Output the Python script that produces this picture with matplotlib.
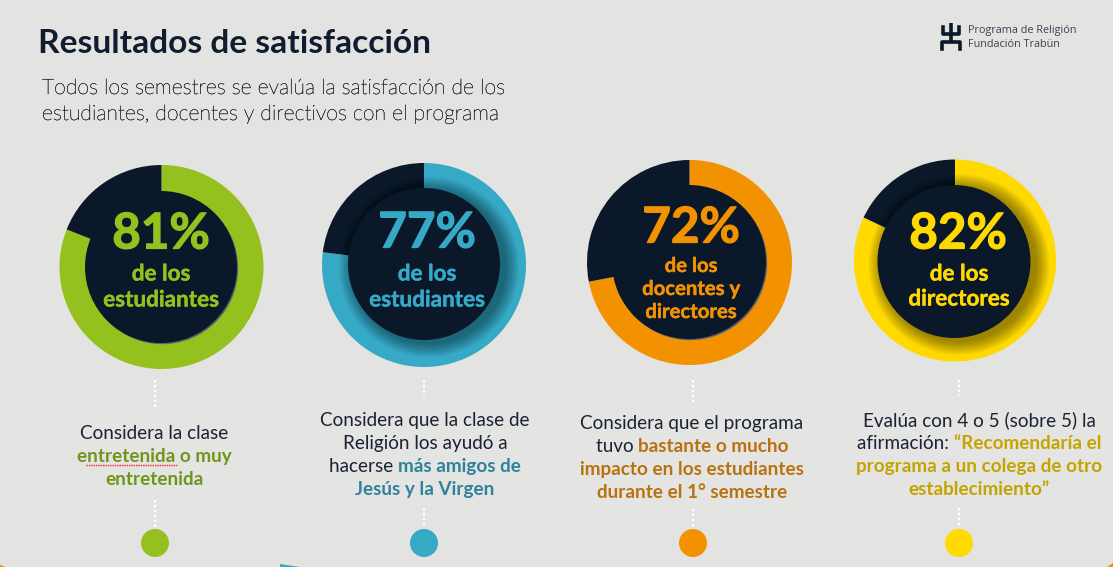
import matplotlib
matplotlib.use("Agg")
import matplotlib.pyplot as plt
import matplotlib.patheffects as pe
from matplotlib.patches import Circle, Rectangle, Polygon

W, H = 1113, 567
BG = "#E3E3E1"
NAVY = "#0B1829"
TXT = "#1A2233"

# ---- data
percent = [81, 77, 72, 82]
big_labels = ["81%", "77%", "72%", "82%"]
sub_labels = [["de los", "estudiantes"], ["de los", "estudiantes"],
              ["de los", "docentes y", "directores"], ["de los", "directores"]]
colors = ["#95C11F", "#36A9C7", "#F39200", "#FFD900"]
text_colors = ["#6F961C", "#2E839C", "#B8720F", "#C4A400"]
descriptions = [
    [[("Considera la clase", 0)], [("entretenida o muy", 1)], [("entretenida", 1)]],
    [[("Considera que la clase de", 0)], [("Religión los ayudó a", 0)],
     [("hacerse ", 0), ("más amigos de", 1)], [("Jesús y la Virgen", 1)]],
    [[("Considera que el programa", 0)], [("tuvo ", 0), ("bastante o mucho", 1)],
     [("impacto en los estudiantes", 1)], [("durante el 1° semestre", 1)]],
    [[("Evalúa con 4 o 5 (sobre 5) la", 0)], [("afirmación: ", 0), ("“Recomendaría el", 1)],
     [("programa a un colega de otro", 1)], [("establecimiento”", 1)]],
]

# ---- layout (pixels)
donut_geo = [(161.5, 267, 102, 161, 267, 76), (424, 265, 102, 424, 264, 76),
             (689.5, 262.5, 102.5, 689, 262, 77), (955, 260.5, 101, 954, 261.5, 76.5)]
big_pos = [(161, 234), (427, 233), (691, 228), (958, 234)]
sub_pos = [(161, [274, 300]), (427, [274, 300]), (691, [266, 289, 312]), (959, [274, 299])]
sub_size = [16.2, 16.2, 14.6, 16.2]
desc_pos = [(154, [432, 455, 478]), (425, [419, 442, 465, 488]),
            (692, [422, 445, 468, 491]), (979, [419, 442, 465, 488])]
desc_boxes = [(58, 412, 190, 86), (303, 400, 242, 108), (568, 402, 252, 107), (838, 400, 267, 105)]
dot_x = [155, 424, 693, 959]
upper_end = [410, 396, 402, 396]
lower_start = [500, 508, 509, 508]
shadow = [0, 1, 0, 1]

fig = plt.figure(figsize=(W / 100, H / 100), dpi=100, facecolor=BG)
ov = fig.add_axes([0, 0, 1, 1], zorder=1)
ov.set_xlim(0, W)
ov.set_ylim(H, 0)
ov.axis("off")
ov.patch.set_alpha(0)
top = fig.add_axes([0, 0, 1, 1], zorder=5)
top.set_xlim(0, W)
top.set_ylim(H, 0)
top.axis("off")
top.patch.set_alpha(0)

LATO = "Lato"

def stroked(t, lw, color):
    t.set_path_effects([pe.Stroke(linewidth=lw, foreground=color), pe.Normal()])
    return t

def width(s, **kw):
    r = fig.canvas.get_renderer()
    a = top.text(0, 0, s + "|", **kw)
    b = top.text(0, 0, "|", **kw)
    w = a.get_window_extent(r).width - b.get_window_extent(r).width
    a.remove()
    b.remove()
    return w

def line_of_runs(cx, y, runs, color, size):
    styles = []
    for s, bold in runs:
        styles.append(dict(family=LATO, fontsize=size, weight="bold" if bold else "normal"))
    ws = [width(s, **k) for (s, _), k in zip(runs, styles)]
    x = cx - sum(ws) / 2
    for (s, bold), k, w in zip(runs, styles, ws):
        top.text(x, y, s, color=color if bold else TXT, va="center_baseline", ha="left", **k)
        x += w

# title
top.text(38, 41, "Resultados de satisfacción", family=LATO, weight="bold", fontsize=24.1,
         color="#101C30", va="center_baseline")
for s, y in [("Todos los semestres se evalúa la satisfacción de los", 86),
             ("estudiantes, docentes y directivos con el programa", 112)]:
    stroked(top.text(42, y, s, family=LATO, weight="light", fontsize=15.3, color="#1E2636",
                     va="center_baseline"), 0.25, "#1E2636")

# logo
lw = 2.6
top.plot([951, 951], [23, 42], color=NAVY, lw=lw, solid_capstyle="butt")
top.plot([943, 943, 958.5, 958.5], [27, 34, 34, 27], color=NAVY, lw=lw, solid_joinstyle="round")
top.plot([942, 942, 959.5, 959.5], [49, 42, 42, 49], color=NAVY, lw=lw, solid_joinstyle="round")
top.text(968, 29.5, "Programa de Religión", family="Open Sans", fontsize=7.8, color="#3A4252", va="center_baseline")
top.text(968, 43, "Fundación Trabün", family="Open Sans", fontsize=7.8, color="#3A4252", va="center_baseline")

# donuts
for i, p in enumerate(percent):
    cx, cy, R, ix, iy, r = donut_geo[i]
    ax = fig.add_axes([(cx - R) / W, 1 - (cy + R) / H, 2 * R / W, 2 * R / H], zorder=2)
    ax.pie([p, 100 - p], colors=[colors[i], NAVY], startangle=90, counterclock=False, radius=1)
    ax.set_xlim(-1, 1)
    ax.set_ylim(-1, 1)
    ax.set_aspect("equal")
    ax.axis("off")
    dx, dy = (ix - cx) / R, -(iy - cy) / R
    if shadow[i]:
        for k in range(14, 0, -1):
            ax.add_patch(Circle((dx + 5 / R, dy - 3 / R), (r + k) / R, fc="black", ec="none",
                                alpha=0.03, zorder=5))
    else:
        ax.add_patch(Circle((dx + 1.2 / R, dy - 1.2 / R), r / R, fc="#5A6070", ec="none", zorder=5))
    ax.add_patch(Circle((dx, dy), r / R, fc=NAVY, ec="none", zorder=6))

    stroked(top.text(big_pos[i][0], big_pos[i][1], big_labels[i], family=LATO, weight="bold", fontsize=35.5,
                     color=colors[i], ha="center", va="center"), 0.9, colors[i])
    sx, ys = sub_pos[i]
    for s, y in zip(sub_labels[i], ys):
        stroked(top.text(sx, y, s, family=LATO, weight="bold", fontsize=sub_size[i], color=colors[i],
                         ha="center", va="center"), 0.3, colors[i])

    # description
    bx, by, bw, bh = desc_boxes[i]
    ov.add_patch(Rectangle((bx, by), bw, bh, fc="#E4E4E2", ec="none", zorder=1))
    dcx, dys = desc_pos[i]
    for runs, y in zip(descriptions[i], dys):
        line_of_runs(dcx, y, runs, text_colors[i], 13.6)

    # connectors and dots
    x = dot_x[i]
    ov.plot([x, x], [380, upper_end[i]], color="white", lw=1.6, ls=(0, (1.1, 1.1)), zorder=2)
    ov.plot([x, x], [lower_start[i], 527], color="white", lw=1.6, ls=(0, (1.1, 1.1)), zorder=2)
    ov.add_patch(Circle((x, 543), 14, fc=colors[i], ec="none", zorder=3))

# spell-check underline
top.plot([86, 177], [465, 465], color="#F0282C", lw=1.0, ls=(0, (1, 0.7)))

# cropped shapes at the lower edge
ov.add_patch(Polygon([(280, 564), (300, 567), (280, 567)], fc="#36A9C7", ec="none"))
ov.add_patch(Polygon([(0, 565), (6, 567), (0, 567)], fc="#F39200", ec="none"))
ov.add_patch(Polygon([(1107, 567), (1113, 563), (1113, 567)], fc="#F39200", ec="none"))

fig.savefig("out.png", dpi=100, facecolor=BG)
